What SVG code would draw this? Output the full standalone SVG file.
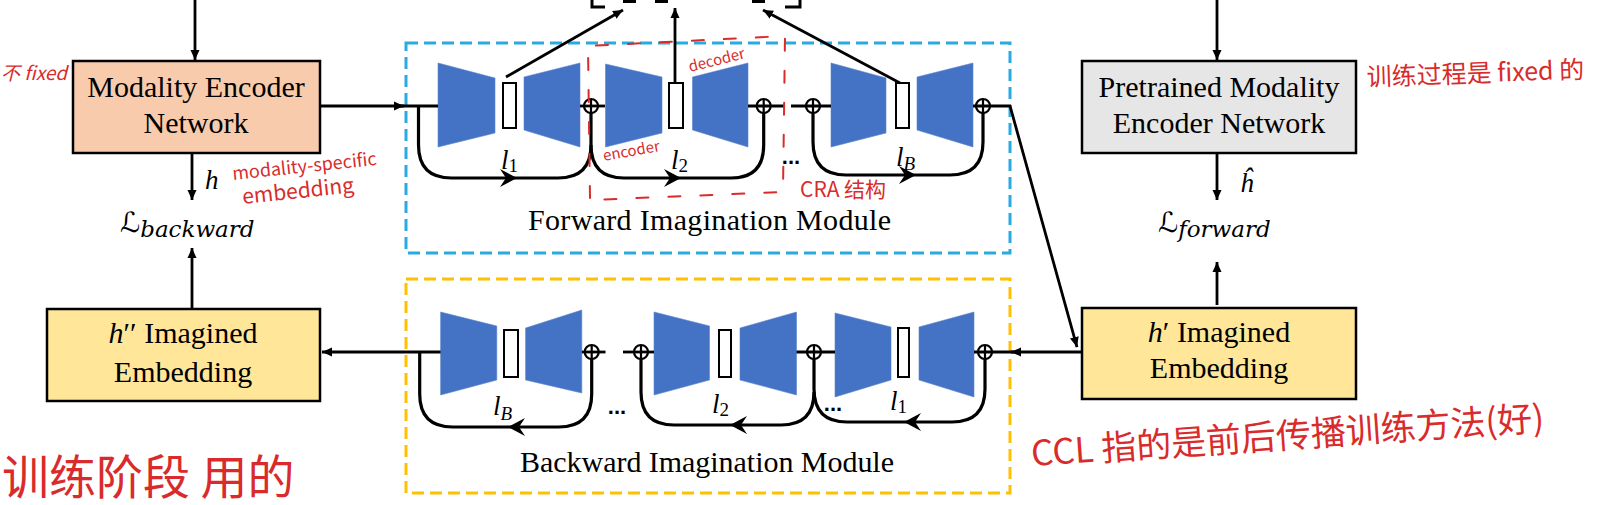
<svg xmlns="http://www.w3.org/2000/svg" xmlns:xlink="http://www.w3.org/1999/xlink" width="1602" height="505" viewBox="0 0 1602 505">
<style>
.bg{fill:#ffffff}
.box{stroke:#000;stroke-width:2.5}
.lbl{font-family:"Liberation Serif","Times New Roman",serif;font-size:30px;fill:#000}
.mod{font-family:"Liberation Serif","Times New Roman",serif;font-size:30px;fill:#000}
.mi{font-family:"Liberation Serif","Times New Roman",serif;font-style:italic;fill:#000}
.cal{font-family:"DejaVu Serif","DejaVu Sans",serif;fill:#000}
.sub{font-family:"DejaVu Serif","DejaVu Sans",serif;font-style:italic;fill:#000}
.blk{fill:#4472C4;stroke:#5B84CC;stroke-width:0.6}
.bar{fill:#fff;stroke:#000;stroke-width:2}
.ln{fill:none;stroke:#000;stroke-width:2.8}
.sk{fill:none;stroke:#000;stroke-width:3.2}
.plus{fill:none;stroke:#000;stroke-width:2.2}
.dots{font-family:"Liberation Sans",Arial,sans-serif;font-weight:bold;font-size:22px;fill:#000}
.hand{font-family:"Noto Sans CJK SC","Noto Sans",sans-serif;fill:#D92B2B}
.red{fill:none;stroke:#D92B2B;stroke-width:2;stroke-linecap:round}
</style>
<defs>
<marker id="ah" viewBox="0 0 10 10" refX="10" refY="5" markerWidth="10" markerHeight="10" markerUnits="userSpaceOnUse" orient="auto"><path d="M0,0.5 L10,5 L0,9.5 z" fill="#000"/></marker>
<path id="barb" d="M0,0 L-17,-9 L-11,0 L-17,9 Z" fill="#000"/>
<g id="oplus"><circle r="7" class="plus"/><path d="M-7,0 H7 M0,-7 V7" class="plus"/></g>
</defs>
<rect class="bg" x="0" y="0" width="1602" height="505"/>

<!-- dashed module frames -->
<rect id="fwd-frame" x="406" y="43" width="604" height="210" fill="none" stroke="#29ABE2" stroke-width="3" stroke-dasharray="12,6"/>
<rect id="bwd-frame" x="406" y="279" width="604" height="214" fill="none" stroke="#FFC000" stroke-width="3" stroke-dasharray="12,6"/>

<!-- nodes -->
<g id="modality-encoder">
<rect x="73" y="61" width="247" height="92" fill="#F8CBAD" class="box"/>
<text class="lbl" x="196" y="97" text-anchor="middle">Modality Encoder</text>
<text class="lbl" x="196" y="133" text-anchor="middle">Network</text>
</g>
<g id="pretrained-encoder">
<rect x="1082" y="61" width="274" height="92" fill="#E7E6E6" class="box"/>
<text class="lbl" x="1219" y="97" text-anchor="middle">Pretrained Modality</text>
<text class="lbl" x="1219" y="133" text-anchor="middle">Encoder Network</text>
</g>
<g id="h2-embedding">
<rect x="47" y="309" width="273" height="92" fill="#FFE699" class="box"/>
<text class="lbl" x="183" y="343" text-anchor="middle"><tspan font-style="italic">h</tspan>′′ Imagined</text>
<text class="lbl" x="183" y="382" text-anchor="middle">Embedding</text>
</g>
<g id="h1-embedding">
<rect x="1082" y="308" width="274" height="91" fill="#FFE699" class="box"/>
<text class="lbl" x="1219" y="342" text-anchor="middle"><tspan font-style="italic">h</tspan>′ Imagined</text>
<text class="lbl" x="1219" y="378" text-anchor="middle">Embedding</text>
</g>

<g id="loss-backward">
<text x="120" y="232"><tspan class="cal" font-size="28">ℒ</tspan><tspan class="sub" font-size="23" dy="5">backward</tspan></text>
</g>
<g id="loss-forward">
<text x="1158" y="232"><tspan class="cal" font-size="28">ℒ</tspan><tspan class="sub" font-size="23" dy="5">forward</tspan></text>
</g>

<!-- forward imagination module -->
<g id="forward-module">
<g id="fwd-block1">
<polygon class="blk" points="438,63 495,78 495,133 438,147"/>
<rect class="bar" x="503" y="83" width="13" height="45"/>
<polygon class="blk" points="524,77 580,63 580,147 524,130"/>
</g>
<g id="fwd-block2">
<polygon class="blk" points="605.5,64 662,77 662,133 605.5,147"/>
<rect class="bar" x="669" y="83" width="14" height="45"/>
<polygon class="blk" points="692.5,77 748,63 748,147 692.5,130"/>
</g>
<g id="fwd-block3">
<polygon class="blk" points="831,63 886,78 886,133 831,147"/>
<rect class="bar" x="896" y="83" width="13" height="45"/>
<polygon class="blk" points="917,77 973,63 973,147 917,130"/>
</g>
<text class="mi" x="501" y="169" font-size="27">l<tspan font-style="normal" font-size="19" dy="3">1</tspan></text>
<text class="mi" x="671" y="169" font-size="27">l<tspan font-style="normal" font-size="19" dy="3">2</tspan></text>
<text class="mi" x="896" y="166" font-size="27">l<tspan font-size="19" dy="4">B</tspan></text>
<text class="dots" x="791" y="164" text-anchor="middle">...</text>
<text class="mod" x="528" y="230" textLength="363" lengthAdjust="spacing">Forward Imagination  Module</text>
</g>

<!-- backward imagination module -->
<g id="backward-module">
<g id="bwd-block1">
<polygon class="blk" points="440.6,312 496.8,326 496.8,380 440.6,395"/>
<rect class="bar" x="504" y="330" width="14" height="47"/>
<polygon class="blk" points="525.6,328 581.8,310 581.8,393 525.6,380"/>
</g>
<g id="bwd-block2">
<polygon class="blk" points="654,312 709.5,326 709.5,380 654,395"/>
<rect class="bar" x="719" y="330" width="12" height="47"/>
<polygon class="blk" points="740,328 796.5,312 796.5,395 740,380"/>
</g>
<g id="bwd-block3">
<polygon class="blk" points="835,313 891,327 891,380 835,397"/>
<rect class="bar" x="898" y="328" width="11" height="49"/>
<polygon class="blk" points="919,327 974,312 974,397 919,380"/>
</g>
<text class="mi" x="493" y="415" font-size="27">l<tspan font-size="19" dy="5">B</tspan></text>
<text class="mi" x="712" y="413" font-size="27">l<tspan font-style="normal" font-size="19" dy="3">2</tspan></text>
<text class="mi" x="890" y="410" font-size="27">l<tspan font-style="normal" font-size="19" dy="3">1</tspan></text>
<text class="dots" x="617" y="414" text-anchor="middle">...</text>
<text class="dots" x="833" y="411" text-anchor="middle">...</text>
<text class="mod" x="520" y="472" textLength="374" lengthAdjust="spacing">Backward Imagination Module</text>
</g>

<!-- connectors -->
<g id="connectors">
<path class="ln" d="M195,0 V60" marker-end="url(#ah)"/>
<path class="ln" d="M1217,0 V60" marker-end="url(#ah)"/>
<path class="ln" d="M192,153 V200" marker-end="url(#ah)"/>
<path class="ln" d="M1217,153 V200" marker-end="url(#ah)"/>
<path class="ln" d="M192,309 V248" marker-end="url(#ah)"/>
<path class="ln" d="M1217,305 V262" marker-end="url(#ah)"/>
<!-- forward main line -->
<path class="ln" d="M320,106 H404" marker-end="url(#ah)"/>
<path class="ln" d="M400,106 H438"/>
<path class="ln" d="M580,106 H605"/>
<path class="ln" d="M748,106 H785"/>
<path class="ln" d="M791,106 H831"/>
<path class="ln" d="M973,106 H1010 L1077,347" marker-end="url(#ah)"/>
<!-- forward skips -->
<path class="sk" d="M418.5,106 V145 Q418.5,178 451.5,178 H558 Q591,178 591,145 V113"/>
<path class="sk" d="M591,145 Q591,178 624,178 H731 Q763.7,178 763.7,145 V113"/>
<path class="sk" d="M813,113 V142 Q813,175 846,175 H950 Q983,175 983,142 V113"/>
<use xlink:href="#barb" href="#barb" transform="translate(517,178)"/>
<use xlink:href="#barb" href="#barb" transform="translate(681,178)"/>
<use xlink:href="#barb" href="#barb" transform="translate(916,175)"/>
<use xlink:href="#oplus" href="#oplus" transform="translate(591,106)"/>
<use xlink:href="#oplus" href="#oplus" transform="translate(763.7,106)"/>
<use xlink:href="#oplus" href="#oplus" transform="translate(813,106)"/>
<use xlink:href="#oplus" href="#oplus" transform="translate(983,106)"/>
<!-- to top -->
<path class="ln" d="M506,77 L623,10" marker-end="url(#ah)"/>
<path class="ln" d="M675,83 V8" marker-end="url(#ah)"/>
<path class="ln" d="M900,83 L763,10" marker-end="url(#ah)"/>
<path d="M592,0 V7 H605" fill="none" stroke="#000" stroke-width="3"/>
<path d="M785,7 H800 V0" fill="none" stroke="#000" stroke-width="3"/>
<rect x="623" y="0" width="13" height="3" fill="#000"/>
<rect x="655" y="0" width="13" height="3" fill="#000"/>
<rect x="752" y="0" width="13" height="3" fill="#000"/>
<!-- backward main line -->
<path class="ln" d="M1082,352 H1011" marker-end="url(#ah)"/>
<path class="ln" d="M1014,352 H974"/>
<path class="ln" d="M835,352 H796.5"/>
<path class="ln" d="M654,352 H623"/>
<path class="ln" d="M605.5,352 H581.8"/>
<path class="ln" d="M440.6,352 H322" marker-end="url(#ah)"/>
<!-- backward skips -->
<path class="sk" d="M985,359 V389 Q985,422 952,422 H847 Q814,422 814,389 V359"/>
<path class="sk" d="M814,392 Q814,425 781,425 H674 Q641,425 641,392 V359"/>
<path class="sk" d="M591.7,359 V394 Q591.7,427 558.7,427 H452.7 Q419.7,427 419.7,394 V352"/>
<use xlink:href="#barb" href="#barb" transform="translate(904,422) rotate(180)"/>
<use xlink:href="#barb" href="#barb" transform="translate(730,425) rotate(180)"/>
<use xlink:href="#barb" href="#barb" transform="translate(508,427) rotate(180)"/>
<use xlink:href="#oplus" href="#oplus" transform="translate(591.7,352)"/>
<use xlink:href="#oplus" href="#oplus" transform="translate(641,352)"/>
<use xlink:href="#oplus" href="#oplus" transform="translate(814,352)"/>
<use xlink:href="#oplus" href="#oplus" transform="translate(985,352)"/>
</g>

<g id="math-labels">
<text class="mi" x="205" y="189" font-size="27">h</text>
<text class="mi" x="1240" y="192" font-size="27">ĥ</text>
</g>

<!-- handwritten annotations -->
<g id="annotations">
<path class="red" d="M590,198 L588,46 L785,36 L783,192 L590,200" stroke-dasharray="12,20"/>
<text class="hand" x="1" y="80" font-size="19" font-style="italic">不 fixed</text>
<text class="hand" x="233" y="180" font-size="18" transform="rotate(-6 233 180)">modality-specific</text>
<text class="hand" x="243" y="204" font-size="21" transform="rotate(-6 243 204)">embedding</text>
<text class="hand" x="690" y="72" font-size="15" transform="rotate(-14 690 72)">decoder</text>
<text class="hand" x="604" y="161" font-size="15" transform="rotate(-10 604 161)">encoder</text>
<text class="hand" x="800" y="197" font-size="21">CRA 结构</text>
<text class="hand" x="1367" y="86" font-size="25" transform="rotate(-2 1367 86)">训练过程是 fixed 的</text>
<text class="hand" x="1032" y="466" font-size="35" transform="rotate(-4 1032 466)">CCL 指的是前后传播训练方法(好)</text>
<text class="hand" x="2" y="494" font-size="47">训练阶段 用的</text>
</g>
</svg>
